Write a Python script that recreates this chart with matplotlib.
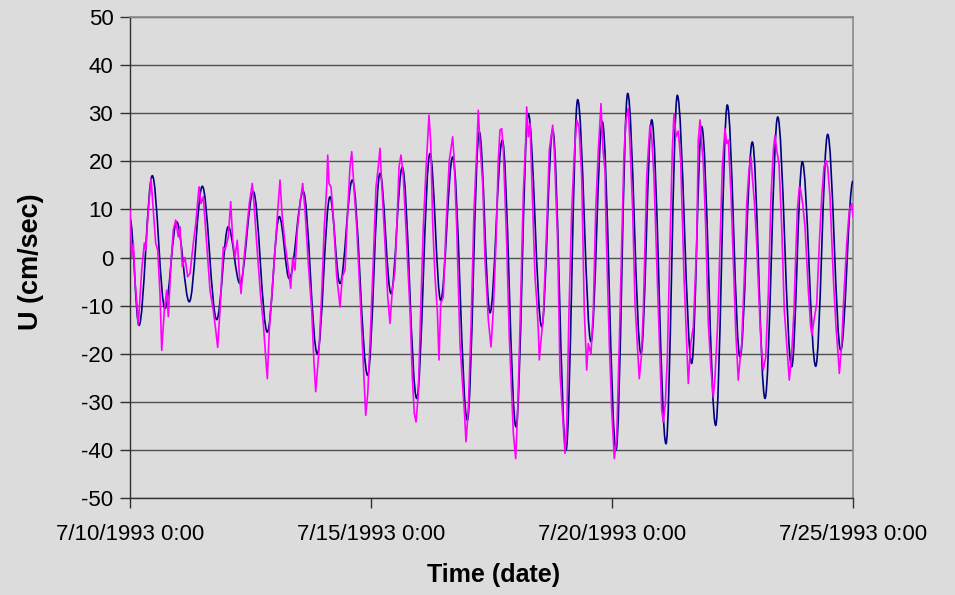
import matplotlib
matplotlib.use("Agg")
import matplotlib.pyplot as plt
from matplotlib.path import Path
from matplotlib.patches import PathPatch

# ---- data (time in days since 7/10/1993 0:00, U in cm/sec) ----
# navy series: turning points
navy_t = [0.0, 0.187, 0.463, 0.726, 0.969, 1.230, 1.500, 1.799, 2.039, 2.282,
          2.558, 2.849, 3.098, 3.305, 3.595, 3.886, 4.149, 4.357, 4.612, 4.931,
          5.187, 5.415, 5.649, 5.948, 6.224, 6.446, 6.695, 6.998, 7.247, 7.469,
          7.724, 8.008, 8.263, 8.542, 8.770, 9.046, 9.288, 9.564, 9.799, 10.083,
          10.326, 10.602, 10.824, 11.120, 11.355, 11.653, 11.861, 12.151, 12.392,
          12.656, 12.911, 13.174, 13.438, 13.728, 13.948, 14.226, 14.475, 14.745,
          15.0]
navy_u = [8.0, -14.1, 17.0, -10.6, 7.4, -9.2, 14.8, -12.9, 6.4, -5.4,
          13.7, -15.5, 8.5, -4.4, 13.7, -20.0, 12.6, -5.4, 16.1, -24.5,
          17.5, -7.5, 18.8, -29.3, 21.6, -8.9, 20.9, -33.8, 26.1, -11.5,
          24.4, -35.2, 29.9, -14.4, 26.5, -40.0, 32.8, -17.5, 28.2, -40.0,
          34.1, -20.0, 28.6, -38.7, 33.7, -22.0, 27.2, -34.9, 31.7,
          -20.7, 24.0, -29.3, 29.2, -22.7, 19.9, -22.6, 25.6, -19.3,
          15.9]

# magenta series: points read from the (noisy) trace
mag_t = [0.000, 0.035, 0.068, 0.104, 0.145, 0.172, 0.243, 0.297, 0.326, 0.380,
         0.436, 0.504, 0.533, 0.575, 0.622, 0.658, 0.712, 0.761, 0.795, 0.851,
         0.898, 0.948, 1.002, 1.037, 1.085, 1.141, 1.197, 1.245, 1.313, 1.363,
         1.432, 1.473, 1.521, 1.591, 1.660, 1.728, 1.778, 1.819, 1.867, 1.936,
         1.971, 2.039, 2.089, 2.131, 2.178, 2.226, 2.268, 2.303, 2.351, 2.421,
         2.475, 2.537, 2.573, 2.629, 2.712, 2.766, 2.815, 2.849, 2.890, 2.940,
         3.008, 3.056, 3.112, 3.154, 3.216, 3.272, 3.334, 3.376, 3.423, 3.471,
         3.527, 3.583, 3.631, 3.699, 3.770, 3.817, 3.853, 3.921, 3.977, 4.031,
         4.081, 4.102, 4.129, 4.170, 4.218, 4.288, 4.336, 4.357, 4.405, 4.461,
         4.517, 4.564, 4.600, 4.641, 4.703, 4.772, 4.820, 4.890, 4.932, 4.979,
         5.048, 5.104, 5.151, 5.187, 5.222, 5.290, 5.347, 5.394, 5.442, 5.498,
         5.554, 5.581, 5.622, 5.670, 5.741, 5.809, 5.857, 5.898, 5.934, 5.982,
         6.031, 6.085, 6.141, 6.203, 6.239, 6.280, 6.328, 6.376, 6.411, 6.446,
         6.500, 6.556, 6.624, 6.695, 6.722, 6.778, 6.846, 6.902, 6.936, 6.971,
         7.018, 7.075, 7.137, 7.193, 7.226, 7.261, 7.317, 7.365, 7.434, 7.490,
         7.537, 7.593, 7.641, 7.676, 7.712, 7.745, 7.815, 7.869, 7.905, 7.953,
         8.002, 8.044, 8.091, 8.160, 8.210, 8.230, 8.264, 8.299, 8.347, 8.402,
         8.438, 8.471, 8.492, 8.527, 8.575, 8.645, 8.699, 8.770, 8.803, 8.873,
         8.921, 8.969, 9.025, 9.060, 9.108, 9.164, 9.218, 9.268, 9.315, 9.371,
         9.425, 9.475, 9.508, 9.564, 9.612, 9.662, 9.716, 9.772, 9.813, 9.855,
         9.876, 9.944, 9.994, 10.048, 10.098, 10.151, 10.201, 10.249, 10.290, 10.338,
         10.373, 10.429, 10.477, 10.525, 10.566, 10.608, 10.650, 10.720, 10.753, 10.788,
         10.824, 10.871, 10.927, 10.996, 11.031, 11.064, 11.106, 11.147, 11.203, 11.251,
         11.286, 11.328, 11.376, 11.425, 11.494, 11.550, 11.583, 11.633, 11.687, 11.757,
         11.790, 11.826, 11.861, 11.895, 11.944, 11.998, 12.054, 12.102, 12.137, 12.193,
         12.241, 12.288, 12.344, 12.380, 12.413, 12.469, 12.517, 12.566, 12.620, 12.656,
         12.691, 12.745, 12.795, 12.842, 12.884, 12.911, 12.952, 13.002, 13.050, 13.091,
         13.139, 13.189, 13.243, 13.299, 13.347, 13.382, 13.417, 13.465, 13.521, 13.575,
         13.625, 13.678, 13.728, 13.776, 13.797, 13.845, 13.886, 13.915, 13.956, 14.004,
         14.073, 14.122, 14.149, 14.191, 14.247, 14.301, 14.351, 14.398, 14.440, 14.475,
         14.523, 14.591, 14.647, 14.695, 14.716, 14.766, 14.813, 14.870, 14.923, 14.973,
         15.000]
mag_u = [10.0, 0.0, 3.0, -5.0, -10.0, -14.0, -2.6, 3.0, 1.5, 9.8,
         16.4, 7.0, 3.0, 1.5, -7.5, -19.3, -11.0, -6.8, -12.3, -1.2,
         5.7, 7.8, 4.3, 6.4, -1.9, 0.0, -4.0, -3.3, 2.9, 7.0,
         14.7, 11.2, 12.6, 2.9, -6.8, -11.0, -15.0, -18.7, -11.0, 2.2,
         1.5, 4.3, 11.6, 3.6, 0.0, 3.6, -3.3, -7.5, -1.9, 5.7,
         11.2, 15.4, 11.2, 2.9, -8.2, -13.7, -20.7, -25.2, -15.1, -8.2,
         1.5, 8.5, 16.1, 9.1, 2.9, -1.2, -6.4, 0.0, -2.6, 5.7,
         11.2, 15.4, 9.8, -1.2, -11.0, -22.0, -27.9, -19.3, -7.5, 6.4,
         14.7, 21.3, 15.4, 14.7, 8.5, -4.0, -8.2, -10.3, -4.0, -2.6,
         9.8, 18.8, 22.0, 15.4, 6.4, -7.5, -17.9, -32.8, -28.3, -17.9,
         -0.6, 14.7, 18.8, 22.7, 15.4, 2.9, -8.2, -13.7, -6.8, -2.6,
         11.2, 18.8, 21.3, 16.8, 2.9, -11.0, -24.9, -32.4, -34.2, -28.3,
         -11.0, 6.4, 18.2, 29.6, 23.7, 7.1, -4.0, -11.0, -21.3, -9.6,
         -8.2, 6.4, 20.2, 25.1, 20.9, 6.4, -17.9, -26.9, -31.7, -38.3,
         -31.7, -14.4, 9.8, 22.2, 30.6, 23.7, 15.4, -0.6, -13.0, -18.6,
         -11.0, 2.9, 20.2, 26.5, 26.8, 22.3, 2.9, -16.5, -24.9, -36.6,
         -41.8, -31.7, -14.4, 13.3, 24.4, 31.3, 25.1, 27.9, 13.3, -4.0,
         -8.9, -15.1, -21.3, -17.2, -12.3, 6.4, 22.3, 27.5, 22.3, 2.9,
         -24.1, -31.7, -40.7, -35.2, -11.0, 9.8, 21.6, 28.6, 27.2, 16.8,
         -11.0, -23.4, -17.9, -20.0, -11.0, 9.8, 22.3, 32.0, 22.3, 18.2,
         6.4, -17.9, -31.7, -41.8, -37.4, -17.9, 2.9, 21.6, 28.6, 31.0,
         23.7, 9.8, -9.6, -17.9, -25.2, -20.7, -11.0, 16.8, 22.3, 27.5,
         25.1, 16.8, -0.6, -21.3, -31.7, -34.2, -30.4, -21.3, 2.9, 22.3,
         29.9, 25.1, 26.3, 20.2, -4.0, -17.9, -26.2, -17.9, -14.4, 2.9,
         24.4, 28.6, 23.7, 19.5, 6.4, -13.7, -23.4, -29.0, -24.8, -13.7,
         2.9, 18.8, 26.8, 23.7, 24.4, 13.3, -0.6, -15.1, -25.5, -21.3,
         -17.9, -4.0, 11.2, 18.2, 20.9, 16.8, 11.9, 2.9, -8.9, -17.9,
         -23.4, -20.7, -7.5, 12.6, 22.3, 25.4, 22.3, 19.5, 6.4, -11.0,
         -17.9, -25.5, -20.0, -11.0, -4.0, 9.8, 14.7, 14.0, 11.2, 6.4,
         -6.8, -14.4, -16.1, -13.0, -9.6, 2.9, 12.6, 18.8, 20.2, 18.8,
         12.6, -4.0, -14.4, -20.7, -24.1, -17.9, -7.5, 2.9, 9.8, 11.2,
         8.5]

x_ticks = [0, 5, 10, 15]
x_ticklabels = ["7/10/1993 0:00", "7/15/1993 0:00", "7/20/1993 0:00", "7/25/1993 0:00"]
y_ticks = list(range(-50, 51, 10))

plt.rcParams['font.family'] = ['Liberation Sans', 'DejaVu Sans']
plt.rcParams['axes.unicode_minus'] = False
bg = '#dcdcdc'
fig = plt.figure(figsize=(9.55, 5.95), dpi=100, facecolor=bg)
ax = fig.add_axes([130/955, 1-498/595, (853-130)/955, (498-17)/595])
ax.set_facecolor(bg)

# navy: smoothed line through the turning points (like a "smoothed line" chart style)
verts = [(navy_t[0], navy_u[0])]
codes = [Path.MOVETO]
for i in range(1, len(navy_t)):
    t0, u0 = navy_t[i-1], navy_u[i-1]
    t1, u1 = navy_t[i], navy_u[i]
    k = 0.36 * (t1 - t0)
    verts += [(t0 + k, u0), (t1 - k, u1), (t1, u1)]
    codes += [Path.CURVE4, Path.CURVE4, Path.CURVE4]
ax.add_patch(PathPatch(Path(verts, codes), fill=False, edgecolor='#000080',
                       lw=1.2, zorder=3, clip_on=True))

ax.plot(mag_t, mag_u, color='#ff00ff', lw=1.2, zorder=4)

ax.set_xlim(0, 15)
ax.set_ylim(-50, 50)
ax.set_yticks(y_ticks)
ax.set_xticks(x_ticks)
ax.set_xticklabels(x_ticklabels)
ax.yaxis.grid(True, color='#505050', lw=1.0)
ax.set_axisbelow(True)

for s in ['top', 'right']:
    ax.spines[s].set_color('#8a8a8a')
    ax.spines[s].set_linewidth(1.2)
for s in ['left', 'bottom']:
    ax.spines[s].set_color('#303030')
    ax.spines[s].set_linewidth(1.0)

ax.tick_params(axis='both', direction='out', length=7, width=1.0, color='#303030',
               labelsize=16, pad=5)
ax.tick_params(axis='x', pad=12)

ax.set_xlabel('Time (date)', fontsize=18, fontweight='bold')
ax.set_ylabel('U (cm/sec)', fontsize=19.5, fontweight='bold')
ax.xaxis.set_label_coords((494-130)/723, (498-575)/481)
ax.yaxis.set_label_coords((31-130)/723, (498-262)/481)
ax.xaxis.label.set(va='center', ha='center')
ax.yaxis.label.set(va='center', ha='center')

fig.savefig('out.png', dpi=100, facecolor=bg)
